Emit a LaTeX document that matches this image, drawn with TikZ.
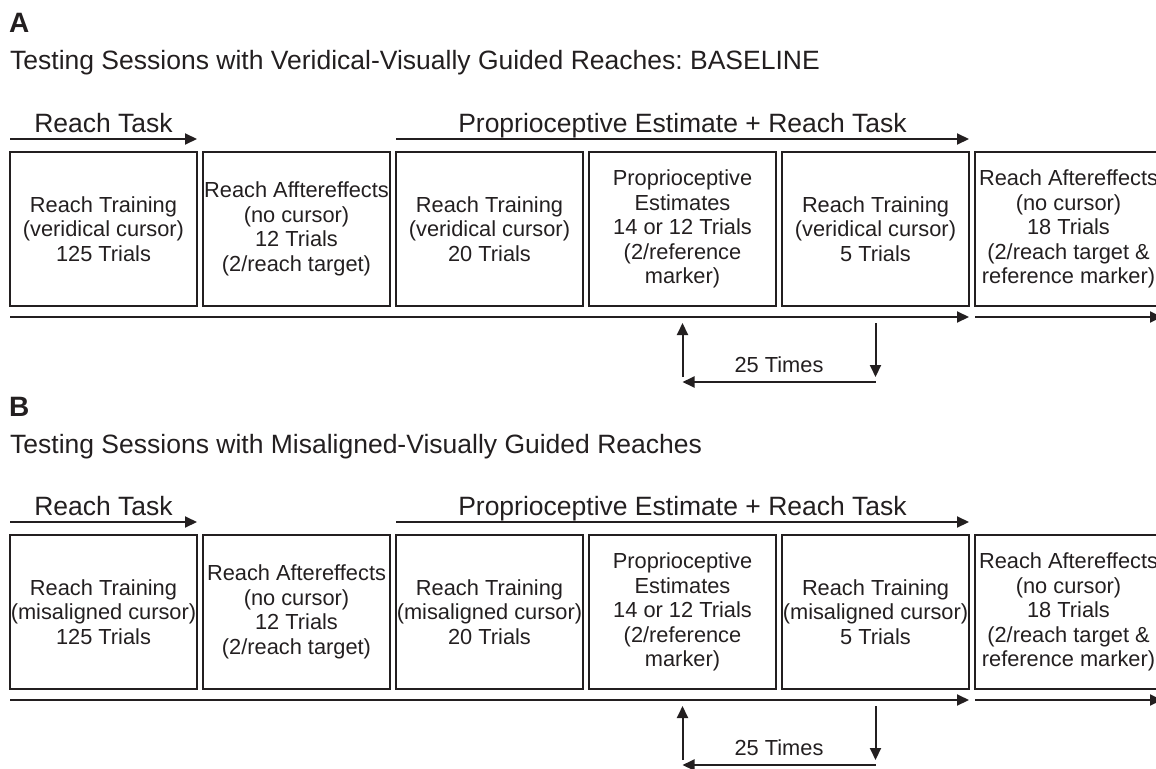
\documentclass[tikz,border=0pt]{standalone}
\usepackage{fontspec}
\setmainfont{Liberation Sans}
\usetikzlibrary{arrows.meta,positioning}
\frenchspacing
\definecolor{ink}{HTML}{231F20}
\tikzstyle{stage} = [draw=ink, line width=2pt, minimum width=187pt, minimum height=154pt, inner sep=0pt, outer sep=0pt, align=center, text=ink, font=\fontsize{21.8}{24.6}\selectfont]
\tikzstyle{flow} = [draw=ink, line width=2pt, -{Triangle[length=12pt,width=11pt]}]
\tikzstyle{tasklabel} = [inner sep=0pt, text depth=0pt, text=ink, font=\fontsize{26.5}{30}\selectfont]
\tikzstyle{heading} = [anchor=base west, inner sep=0pt, text=ink, font=\fontsize{26.5}{30}\selectfont]
\tikzstyle{panel} = [anchor=base west, inner sep=0pt, text=ink, font=\fontsize{28}{32}\selectfont\bfseries]
\tikzstyle{loop} = [inner sep=0pt, text depth=0pt, text=ink, font=\fontsize{21.8}{24.6}\selectfont]

\begin{document}
\begin{tikzpicture}[x=1pt, y=-1pt]
    \useasboundingbox (0,0) rectangle (1156,768);

    % panel A: baseline
    \node[panel] (labA) at (9,33) {A};
    \node[heading] (subA) at (10,70) {Testing Sessions with Veridical-Visually Guided Reaches: BASELINE};

    \node[stage, anchor=north west] (a1) at (10,152) {Reach Training\\(veridical cursor)\\125 Trials};
    \node[stage, right=6pt of a1] (a2) {Reach Afftereffects\\(no cursor)\\12 Trials\\(2/reach target)};
    \node[stage, right=6pt of a2] (a3) {Reach Training\\(veridical cursor)\\20 Trials};
    \node[stage, right=6pt of a3] (a4) {Proprioceptive\\Estimates\\14 or 12 Trials\\(2/reference\\marker)};
    \node[stage, right=6pt of a4] (a5) {Reach Training\\(veridical cursor)\\5 Trials};
    \node[stage, right=6pt of a5] (a6) {Reach Aftereffects\\(no cursor)\\18 Trials\\(2/reach target \&\\reference marker)};

    \draw[flow] ([yshift=13pt]a1.north west) -- node[tasklabel, above=6pt] (aTask1) {Reach Task} ([yshift=13pt]a1.north east);
    \draw[flow] ([yshift=13pt]a3.north west) -- node[tasklabel, above=6pt] (aTask2) {Proprioceptive Estimate + Reach Task} ([yshift=13pt]a5.north east);

    \draw[flow] ([yshift=-11pt]a1.south west) -- ([yshift=-11pt]a5.south east);
    \draw[flow] ([yshift=-11pt]a6.south west) -- ([yshift=-11pt]a6.south east);

    \coordinate (aUpS) at ([yshift=-71pt]a4.south);
    \coordinate (aUpE) at ([yshift=-17pt]a4.south);
    \coordinate (aDnS) at ([yshift=-17pt]a5.south);
    \coordinate (aDnE) at ([yshift=-71pt]a5.south);
    \coordinate (aBkS) at ([yshift=-76pt]a5.south);
    \coordinate (aBkE) at ([yshift=-76pt]a4.south);
    \draw[flow] (aUpS) -- (aUpE);
    \draw[flow] (aDnS) -- (aDnE);
    \draw[flow] (aBkS) -- node[loop, above=9pt] (aTimes) {25 Times} (aBkE);

    % panel B: misaligned
    \node[panel] (labB) at (9,416) {B};
    \node[heading] (subB) at (10,453) {Testing Sessions with Misaligned-Visually Guided Reaches};

    \node[stage, anchor=north west] (b1) at (10,535) {Reach Training\\(misaligned cursor)\\125 Trials};
    \node[stage, right=6pt of b1] (b2) {Reach Aftereffects\\(no cursor)\\12 Trials\\(2/reach target)};
    \node[stage, right=6pt of b2] (b3) {Reach Training\\(misaligned cursor)\\20 Trials};
    \node[stage, right=6pt of b3] (b4) {Proprioceptive\\Estimates\\14 or 12 Trials\\(2/reference\\marker)};
    \node[stage, right=6pt of b4] (b5) {Reach Training\\(misaligned cursor)\\5 Trials};
    \node[stage, right=6pt of b5] (b6) {Reach Aftereffects\\(no cursor)\\18 Trials\\(2/reach target \&\\reference marker)};

    \draw[flow] ([yshift=13pt]b1.north west) -- node[tasklabel, above=6pt] (bTask1) {Reach Task} ([yshift=13pt]b1.north east);
    \draw[flow] ([yshift=13pt]b3.north west) -- node[tasklabel, above=6pt] (bTask2) {Proprioceptive Estimate + Reach Task} ([yshift=13pt]b5.north east);

    \draw[flow] ([yshift=-11pt]b1.south west) -- ([yshift=-11pt]b5.south east);
    \draw[flow] ([yshift=-11pt]b6.south west) -- ([yshift=-11pt]b6.south east);

    \coordinate (bUpS) at ([yshift=-71pt]b4.south);
    \coordinate (bUpE) at ([yshift=-17pt]b4.south);
    \coordinate (bDnS) at ([yshift=-17pt]b5.south);
    \coordinate (bDnE) at ([yshift=-71pt]b5.south);
    \coordinate (bBkS) at ([yshift=-76pt]b5.south);
    \coordinate (bBkE) at ([yshift=-76pt]b4.south);
    \draw[flow] (bUpS) -- (bUpE);
    \draw[flow] (bDnS) -- (bDnE);
    \draw[flow] (bBkS) -- node[loop, above=9pt] (bTimes) {25 Times} (bBkE);
\end{tikzpicture}
\end{document}
